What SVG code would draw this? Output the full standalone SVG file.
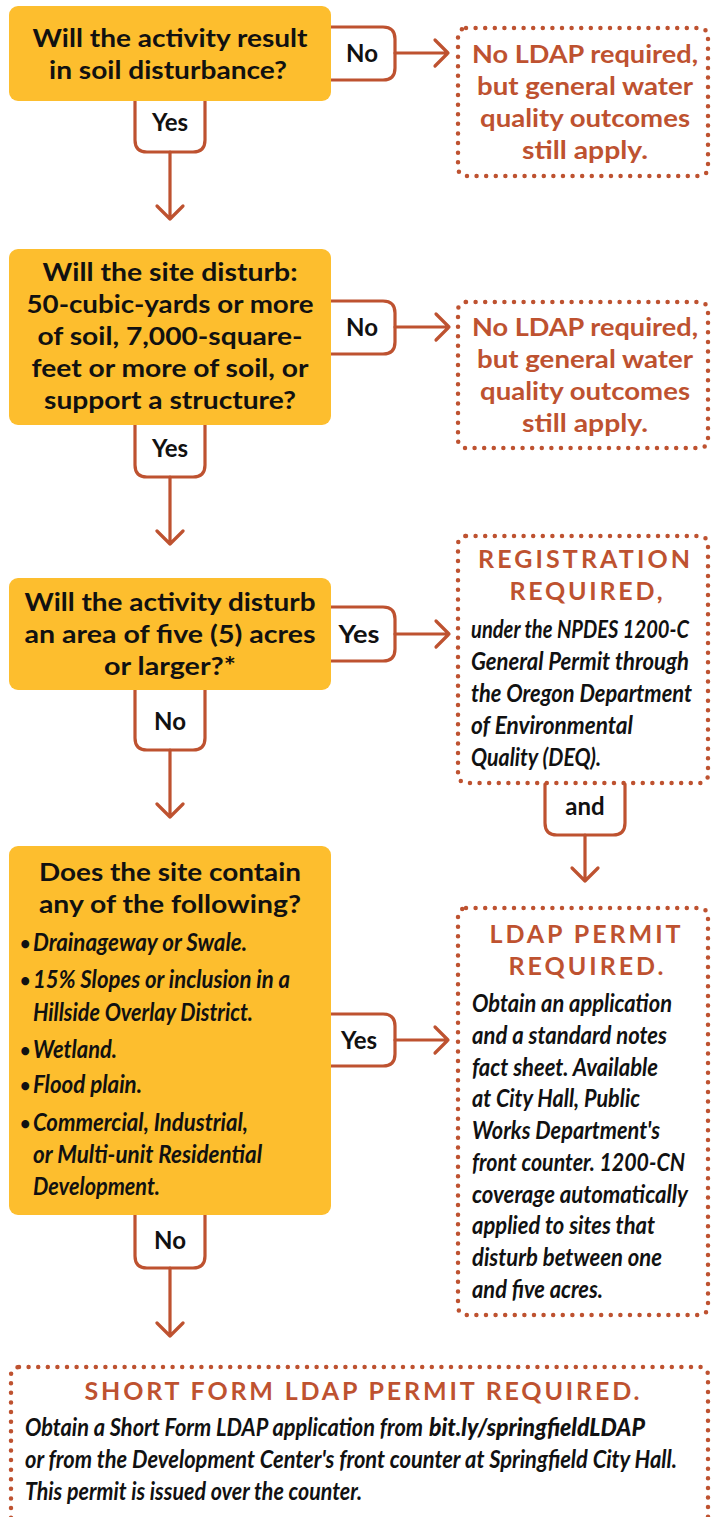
<svg xmlns="http://www.w3.org/2000/svg" width="711" height="1517" viewBox="0 0 711 1517">
<style>
.box{fill:#FDBE2E}
.dot{fill:none;stroke:#BE5230;stroke-width:4.5;stroke-dasharray:0 9.6;stroke-linecap:round}
.c{fill:none;stroke:#BE5230;stroke-width:3.2;stroke-linejoin:round;stroke-linecap:round}
.q{font-family:Lato,"Open Sans",sans-serif;font-weight:700;font-size:25px;fill:#111;text-anchor:middle}
.lbl{font-family:Lato,"Open Sans",sans-serif;font-weight:700;font-size:24px;fill:#111;text-anchor:middle}
.o{font-family:Lato,"Open Sans",sans-serif;font-weight:700;font-size:25px;fill:#BE5230;text-anchor:middle}
.t{font-family:Lato,"Open Sans",sans-serif;font-weight:700;font-size:25px;fill:#BE5230;text-anchor:middle}
.i{font-family:Lato,"Open Sans",sans-serif;font-weight:700;font-style:italic;font-size:24px;fill:#111}
.ib{font-family:Lato,"Open Sans",sans-serif;font-weight:900;font-style:italic;font-size:24px;fill:#111}
.bu{font-family:Lato,"Open Sans",sans-serif;font-weight:700;font-size:18px;fill:#111}
</style>

<g id="connectors">
<path class="c" d="M135,101 V140 Q135,152 147,152 H193 Q205,152 205,140 V101"/>
<path class="c" d="M170,152 V219 M157,206 L170,219 L183,206"/>
<path class="c" d="M331,27 H383 Q395,27 395,39 V68 Q395,80 383,80 H331"/>
<path class="c" d="M395,53 H448 M435,40 L448,53 L435,66"/>
<path class="c" d="M135,425 V465 Q135,477 147,477 H193 Q205,477 205,465 V425"/>
<path class="c" d="M170,477 V544 M157,531 L170,544 L183,531"/>
<path class="c" d="M331,301 H383 Q395,301 395,313 V342 Q395,354 383,354 H331"/>
<path class="c" d="M395,327 H449 M436,314 L449,327 L436,340"/>
<path class="c" d="M331,607 H383 Q395,607 395,619 V649 Q395,661 383,661 H331"/>
<path class="c" d="M395,634 H449 M436,621 L449,634 L436,647"/>
<path class="c" d="M135,690 V738 Q135,750 147,750 H193 Q205,750 205,738 V690"/>
<path class="c" d="M170,750 V817 M157,804 L170,817 L183,804"/>
<path class="c" d="M545,784 V823 Q545,835 557,835 H613 Q625,835 625,823 V784"/>
<path class="c" d="M585,835 V881 M572,868 L585,881 L598,868"/>
<path class="c" d="M331,1014 H383 Q395,1014 395,1026 V1054 Q395,1066 383,1066 H331"/>
<path class="c" d="M395,1040 H448 M435,1027 L448,1040 L435,1053"/>
<path class="c" d="M135,1215 V1256 Q135,1268 147,1268 H193 Q205,1268 205,1256 V1215"/>
<path class="c" d="M170,1268 V1336 M157,1323 L170,1336 L183,1323"/>
<text class="lbl" x="170" y="131">Yes</text>
<text class="lbl" x="362" y="62">No</text>
<text class="lbl" x="170" y="457">Yes</text>
<text class="lbl" x="362" y="336">No</text>
<text class="lbl" x="359" y="643" textLength="41" lengthAdjust="spacingAndGlyphs">Yes</text>
<text class="lbl" x="170" y="730">No</text>
<text class="lbl" x="585" y="815">and</text>
<text class="lbl" x="359" y="1049">Yes</text>
<text class="lbl" x="170" y="1249">No</text>
</g>

<g id="n1">
<rect class="box" x="9" y="6" width="322" height="95" rx="9"/>
<text class="q" x="170" y="47" textLength="275" lengthAdjust="spacingAndGlyphs">Will the activity result</text>
<text class="q" x="168" y="79" textLength="238" lengthAdjust="spacingAndGlyphs">in soil disturbance?</text>
</g>

<g id="d1">
<rect class="dot" x="458" y="28" width="250" height="148" rx="8"/>
<text class="o" x="585" y="63" textLength="226" lengthAdjust="spacingAndGlyphs">No LDAP required,</text>
<text class="o" x="585" y="95" textLength="216" lengthAdjust="spacingAndGlyphs">but general water</text>
<text class="o" x="585" y="127" textLength="210" lengthAdjust="spacingAndGlyphs">quality outcomes</text>
<text class="o" x="585" y="159" textLength="126" lengthAdjust="spacingAndGlyphs">still apply.</text>
</g>

<g id="n2">
<rect class="box" x="9" y="249" width="322" height="176" rx="9"/>
<text class="q" x="170" y="281" textLength="255" lengthAdjust="spacingAndGlyphs">Will the site disturb:</text>
<text class="q" x="170" y="313" textLength="287" lengthAdjust="spacingAndGlyphs">50-cubic-yards or more</text>
<text class="q" x="170" y="345" textLength="265" lengthAdjust="spacingAndGlyphs">of soil, 7,000-square-</text>
<text class="q" x="170" y="377" textLength="277" lengthAdjust="spacingAndGlyphs">feet or more of soil, or</text>
<text class="q" x="170" y="409" textLength="252" lengthAdjust="spacingAndGlyphs">support a structure?</text>
</g>

<g id="d2">
<rect class="dot" x="458" y="302" width="250" height="146" rx="8"/>
<text class="o" x="585" y="336" textLength="226" lengthAdjust="spacingAndGlyphs">No LDAP required,</text>
<text class="o" x="585" y="368" textLength="216" lengthAdjust="spacingAndGlyphs">but general water</text>
<text class="o" x="585" y="400" textLength="210" lengthAdjust="spacingAndGlyphs">quality outcomes</text>
<text class="o" x="585" y="432" textLength="126" lengthAdjust="spacingAndGlyphs">still apply.</text>
</g>

<g id="n3">
<rect class="box" x="9" y="578" width="322" height="112" rx="9"/>
<text class="q" x="170" y="611" textLength="291" lengthAdjust="spacingAndGlyphs">Will the activity disturb</text>
<text class="q" x="170" y="643" textLength="291" lengthAdjust="spacingAndGlyphs">an area of five (5) acres</text>
<text class="q" x="170" y="675" textLength="132" lengthAdjust="spacingAndGlyphs">or larger?*</text>
</g>

<g id="d3">
<rect class="dot" x="458" y="536" width="250" height="247" rx="8"/>
<text class="t" x="584" y="568" textLength="212" lengthAdjust="spacing">REGISTRATION</text>
<text class="t" x="586" y="600" textLength="153" lengthAdjust="spacing">REQUIRED,</text>
<text class="i" x="471" y="638" textLength="218" lengthAdjust="spacingAndGlyphs">under the NPDES 1200-C</text>
<text class="i" x="471" y="670" textLength="218" lengthAdjust="spacingAndGlyphs">General Permit through</text>
<text class="i" x="471" y="702" textLength="221" lengthAdjust="spacingAndGlyphs">the Oregon Department</text>
<text class="i" x="471" y="734" textLength="162" lengthAdjust="spacingAndGlyphs">of Environmental</text>
<text class="i" x="471" y="766" textLength="130" lengthAdjust="spacingAndGlyphs">Quality (DEQ).</text>
</g>

<g id="n4">
<rect class="box" x="9" y="846" width="322" height="369" rx="9"/>
<text class="q" x="170" y="881" textLength="262" lengthAdjust="spacingAndGlyphs">Does the site contain</text>
<text class="q" x="170" y="913" textLength="262" lengthAdjust="spacingAndGlyphs">any of the following?</text>
<text class="bu" x="20" y="950">•</text>
<text class="i" x="33" y="951" textLength="214" lengthAdjust="spacingAndGlyphs">Drainageway or Swale.</text>
<text class="bu" x="20" y="987">•</text>
<text class="i" x="33" y="988" textLength="257" lengthAdjust="spacingAndGlyphs">15% Slopes or inclusion in a</text>
<text class="i" x="33" y="1021" textLength="220" lengthAdjust="spacingAndGlyphs">Hillside Overlay District.</text>
<text class="bu" x="20" y="1057">•</text>
<text class="i" x="33" y="1058" textLength="84" lengthAdjust="spacingAndGlyphs">Wetland.</text>
<text class="bu" x="20" y="1092">•</text>
<text class="i" x="33" y="1093" textLength="109" lengthAdjust="spacingAndGlyphs">Flood plain.</text>
<text class="bu" x="20" y="1130">•</text>
<text class="i" x="33" y="1131" textLength="215" lengthAdjust="spacingAndGlyphs">Commercial, Industrial,</text>
<text class="i" x="33" y="1163" textLength="229" lengthAdjust="spacingAndGlyphs">or Multi-unit Residential</text>
<text class="i" x="33" y="1195" textLength="127" lengthAdjust="spacingAndGlyphs">Development.</text>
</g>

<g id="d4">
<rect class="dot" x="458" y="908" width="250" height="407" rx="8"/>
<text class="t" x="585" y="943" textLength="191" lengthAdjust="spacing">LDAP PERMIT</text>
<text class="t" x="586" y="975" textLength="155" lengthAdjust="spacing">REQUIRED.</text>
<text class="i" x="472" y="1012" textLength="200" lengthAdjust="spacingAndGlyphs">Obtain an application</text>
<text class="i" x="472" y="1044" textLength="195" lengthAdjust="spacingAndGlyphs">and a standard notes</text>
<text class="i" x="472" y="1076" textLength="186" lengthAdjust="spacingAndGlyphs">fact sheet. Available</text>
<text class="i" x="472" y="1107" textLength="168" lengthAdjust="spacingAndGlyphs">at City Hall, Public</text>
<text class="i" x="472" y="1139" textLength="188" lengthAdjust="spacingAndGlyphs">Works Department's</text>
<text class="i" x="472" y="1171" textLength="213" lengthAdjust="spacingAndGlyphs">front counter. 1200-CN</text>
<text class="i" x="472" y="1203" textLength="216" lengthAdjust="spacingAndGlyphs">coverage automatically</text>
<text class="i" x="472" y="1234" textLength="183" lengthAdjust="spacingAndGlyphs">applied to sites that</text>
<text class="i" x="472" y="1266" textLength="190" lengthAdjust="spacingAndGlyphs">disturb between one</text>
<text class="i" x="472" y="1298" textLength="131" lengthAdjust="spacingAndGlyphs">and five acres.</text>
</g>

<g id="d5">
<rect class="dot" x="11" y="1367" width="697" height="170" rx="8"/>
<text class="t" x="362" y="1400" textLength="555" lengthAdjust="spacing">SHORT FORM LDAP PERMIT REQUIRED.</text>
<text class="i" x="25" y="1436" textLength="398" lengthAdjust="spacingAndGlyphs">Obtain a Short Form LDAP application from</text>
<text class="ib" x="429" y="1436" textLength="216" lengthAdjust="spacingAndGlyphs">bit.ly/springfieldLDAP</text>
<text class="i" x="25" y="1468" textLength="652" lengthAdjust="spacingAndGlyphs">or from the Development Center's front counter at Springfield City Hall.</text>
<text class="i" x="25" y="1500" textLength="337" lengthAdjust="spacingAndGlyphs">This permit is issued over the counter.</text>
</g>
</svg>
